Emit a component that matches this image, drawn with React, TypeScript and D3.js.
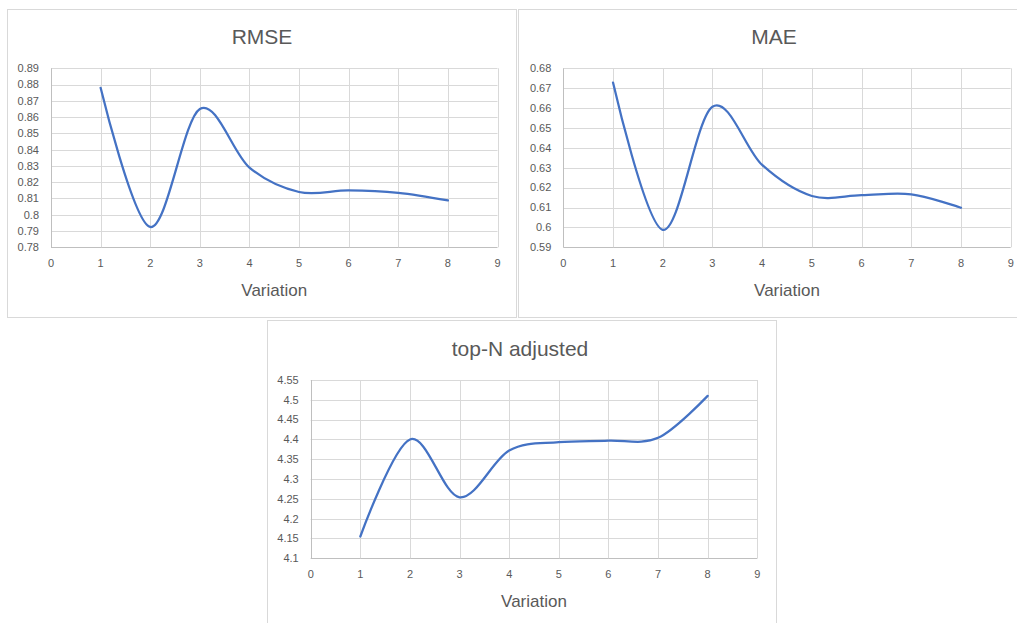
import React from "react";
import * as d3 from "d3";

// Variation index shared by all three panels
const variations = [1, 2, 3, 4, 5, 6, 7, 8];
const xTicks = [0, 1, 2, 3, 4, 5, 6, 7, 8, 9];

const rmseValues = [0.878, 0.7925, 0.865, 0.829, 0.814, 0.815, 0.8135, 0.8088];
const rmseTicks = [0.78, 0.79, 0.8, 0.81, 0.82, 0.83, 0.84, 0.85, 0.86, 0.87, 0.88, 0.89];

const maeValues = [0.6728, 0.5988, 0.6607, 0.6314, 0.6158, 0.6162, 0.6166, 0.6099];
const maeTicks = [0.59, 0.6, 0.61, 0.62, 0.63, 0.64, 0.65, 0.66, 0.67, 0.68];

const topNValues = [4.155, 4.4, 4.254, 4.372, 4.393, 4.397, 4.404, 4.51];
const topNTicks = [4.1, 4.15, 4.2, 4.25, 4.3, 4.35, 4.4, 4.45, 4.5, 4.55];

const FONT = "'Liberation Sans', Arial, sans-serif";
const TEXT = "#595959";
const GRID = "#d9d9d9";
const AXIS = "#bfbfbf";
const LINE = "#4472C4";

type PanelProps = {
  title: string;
  values: number[];
  yTicks: number[];
  box: { x: number; y: number; w: number; h: number };
  plot: { left: number; right: number; top: number; bottom: number };
  titleX: number;
  titleY: number;
  xLabelY: number;
};

function Panel({ title, values, yTicks, box, plot, titleX, titleY, xLabelY }: PanelProps) {
  const x = d3.scaleLinear().domain([0, 9]).range([plot.left, plot.right]);
  const y = d3
    .scaleLinear()
    .domain([yTicks[0], yTicks[yTicks.length - 1]])
    .range([plot.bottom, plot.top]);
  const line = d3
    .line<number>()
    .x((_, i) => x(variations[i]))
    .y((v) => y(v))
    .curve(d3.curveCatmullRom.alpha(0));
  const fmt = (v: number) => String(+v.toFixed(2));

  return (
    <g>
      <rect x={box.x + 0.5} y={box.y + 0.5} width={box.w} height={box.h} fill="#fff" stroke={GRID} />
      <text x={titleX} y={titleY} textAnchor="middle" fontFamily={FONT} fontSize={21} fill={TEXT}>
        {title}
      </text>
      {yTicks.map((t) => (
        <g key={"y" + t}>
          <line
            x1={plot.left}
            x2={plot.right}
            y1={Math.round(y(t)) + 0.5}
            y2={Math.round(y(t)) + 0.5}
            stroke={t === yTicks[0] ? AXIS : GRID}
          />
          <text
            x={plot.left - 12}
            y={y(t)}
            dy="0.35em"
            textAnchor="end"
            fontFamily={FONT}
            fontSize={11}
            fill={TEXT}
          >
            {fmt(t)}
          </text>
        </g>
      ))}
      {xTicks.map((t) => (
        <g key={"x" + t}>
          <line
            x1={Math.round(x(t)) + 0.5}
            x2={Math.round(x(t)) + 0.5}
            y1={plot.top}
            y2={plot.bottom}
            stroke={t === 0 ? AXIS : GRID}
          />
          <text
            x={x(t)}
            y={plot.bottom + 16}
            dy="0.35em"
            textAnchor="middle"
            fontFamily={FONT}
            fontSize={11}
            fill={TEXT}
          >
            {t}
          </text>
        </g>
      ))}
      <path d={line(values) || ""} fill="none" stroke={LINE} strokeWidth={2.25} strokeLinecap="round" />
      <text
        x={(plot.left + plot.right) / 2}
        y={xLabelY}
        textAnchor="middle"
        fontFamily={FONT}
        fontSize={17}
        fill={TEXT}
      >
        Variation
      </text>
    </g>
  );
}

export default function App() {
  return (
    <svg
      width={1017}
      height={623}
      style={{ position: "fixed", left: 0, top: 0, background: "#fff" }}
    >
      <rect width={1017} height={623} fill="#fff" />
      <Panel
        title="RMSE"
        values={rmseValues}
        yTicks={rmseTicks}
        box={{ x: 7, y: 9, w: 509, h: 308 }}
        plot={{ left: 51, right: 497.5, top: 68.3, bottom: 247.3 }}
        titleX={262}
        titleY={44}
        xLabelY={296}
      />
      <Panel
        title="MAE"
        values={maeValues}
        yTicks={maeTicks}
        box={{ x: 518, y: 9, w: 510, h: 308 }}
        plot={{ left: 563.3, right: 1010.7, top: 68.3, bottom: 247.3 }}
        titleX={774}
        titleY={44}
        xLabelY={296}
      />
      <Panel
        title="top-N adjusted"
        values={topNValues}
        yTicks={topNTicks}
        box={{ x: 267, y: 320, w: 509, h: 320 }}
        plot={{ left: 310.7, right: 757.3, top: 380, bottom: 558.3 }}
        titleX={520}
        titleY={356}
        xLabelY={607}
      />
    </svg>
  );
}
